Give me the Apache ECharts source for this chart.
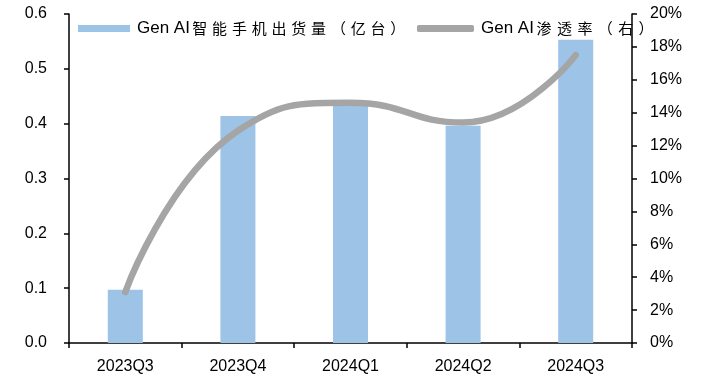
<!DOCTYPE html>
<html>
<head>
<meta charset="utf-8">
<script src="https://cdn.jsdelivr.net/npm/echarts@6/dist/echarts.min.js"></script>
<style>
  html, body { margin: 0; padding: 0; background: #fff; }
  #chart { width: 701px; height: 376px; }
</style>
</head>
<body>
<div id="chart"></div>
<script>
// Quarterly categories
const quarters = ['2023Q3', '2023Q4', '2024Q1', '2024Q2', '2024Q3'];
// Gen AI smartphone shipments (100 million units)
const shipments = [0.097, 0.414, 0.433, 0.396, 0.553];
// Gen AI penetration rate (right axis)
const penetration = [0.031, 0.129, 0.146, 0.134, 0.175];

const barName = 'Gen AI智能手机出货量（亿台）';
const lineName = 'Gen AI渗透率（右）';

const latin = 'Liberation Sans, Arial, sans-serif';
const axisLine = { show: true, lineStyle: { color: '#000', width: 1.5 } };
const axisTick = { show: true, inside: false, length: 5, lineStyle: { color: '#000', width: 1.5 } };

// Legend labels: Latin prefix in one run, each CJK glyph in its own fixed-width cell
function spacedLabel(name) {
  const m = name.match(/^[\x20-\x7e]+/);
  const head = m ? m[0] : '';
  const tail = name.slice(head.length);
  return '{l|' + head + '}' + Array.from(tail).map(ch => '{c|' + ch + '}').join('');
}
function legendText(cellWidth) {
  return {
    color: '#000',
    rich: {
      l: { fontFamily: latin, fontSize: 17, color: '#000', padding: [0, 0, 0, 2] },
      c: { fontFamily: '"Noto Sans CJK SC", sans-serif', fontSize: 15, color: '#000',
           width: cellWidth, align: 'center' }
    }
  };
}

const chart = echarts.init(document.getElementById('chart'), null, { renderer: 'canvas' });
chart.setOption({
  animation: false,
  backgroundColor: '#fff',
  grid: { left: 69, right: 69, top: 14, bottom: 33, containLabel: false },
  legend: [
    {
      left: 73, top: 15,
      itemWidth: 52, itemHeight: 7,
      formatter: spacedLabel,
      textStyle: legendText(19.8),
      data: [{ name: barName, icon: 'rect' }]
    },
    {
      left: 412, top: 15,
      itemWidth: 57, itemHeight: 7,
      formatter: spacedLabel,
      textStyle: legendText(20.4),
      data: [{ name: lineName, icon: 'roundRect', itemStyle: { color: '#A5A5A5' } }]
    }
  ],
  xAxis: {
    type: 'category',
    data: quarters,
    boundaryGap: true,
    axisLine: axisLine,
    axisTick: axisTick,
    axisLabel: { fontFamily: latin, fontSize: 16, color: '#000', margin: 16 },
    splitLine: { show: false }
  },
  yAxis: [
    {
      type: 'value', min: 0, max: 0.6, interval: 0.1,
      axisLine: axisLine, axisTick: axisTick,
      axisLabel: { fontFamily: latin, fontSize: 16, color: '#000', margin: 22,
        formatter: v => v.toFixed(1) },
      splitLine: { show: false }
    },
    {
      type: 'value', min: 0, max: 0.2, interval: 0.02,
      axisLine: axisLine, axisTick: axisTick,
      axisLabel: { fontFamily: latin, fontSize: 16, color: '#000', margin: 18,
        formatter: v => Math.round(v * 100) + '%' },
      splitLine: { show: false }
    }
  ],
  series: [
    {
      name: barName,
      type: 'bar',
      yAxisIndex: 0,
      data: shipments,
      barWidth: 35,
      itemStyle: { color: '#9DC3E6' }
    },
    {
      name: lineName,
      type: 'line',
      yAxisIndex: 1,
      data: penetration,
      smooth: 0.5,
      showSymbol: false,
      symbol: 'none',
      itemStyle: { color: '#A5A5A5' },
      lineStyle: { color: '#A5A5A5', width: 6.5, cap: 'round', join: 'round' }
    }
  ]
});
</script>
</body>
</html>
